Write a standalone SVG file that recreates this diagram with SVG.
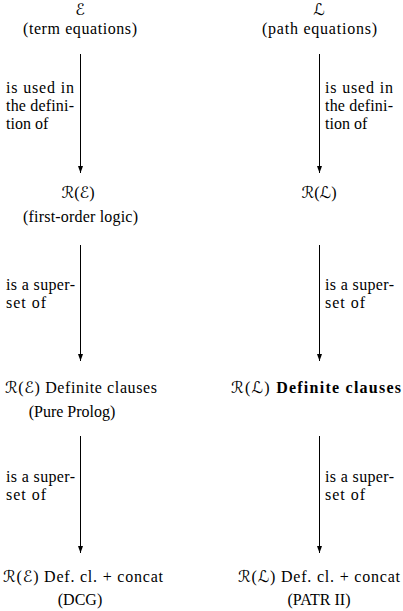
<svg xmlns="http://www.w3.org/2000/svg" width="403" height="611" viewBox="0 0 403 611">
<style>
text{font-family:"Liberation Serif","DejaVu Serif",serif;font-size:16px;fill:#000}
.c{text-anchor:middle}
.b{font-weight:bold}
.s{font-family:"DejaVu Serif","DejaVu Sans",serif;font-style:italic;font-size:16px}
line{stroke:#000;stroke-width:1}
</style>
<defs>
<marker id="ah" viewBox="0 0 7 5" refX="7" refY="2.5" markerWidth="7" markerHeight="5" markerUnits="userSpaceOnUse" orient="auto">
<path d="M0,0 L7,2.5 L0,5 Z" fill="#000"/>
</marker>
</defs>
<rect width="403" height="611" fill="#fff"/>
<g id="connectors">
<line x1="80.5" y1="54" x2="80.5" y2="173" marker-end="url(#ah)"/>
<line x1="319.5" y1="54" x2="319.5" y2="173" marker-end="url(#ah)"/>
<line x1="80.5" y1="245" x2="80.5" y2="361" marker-end="url(#ah)"/>
<line x1="319.5" y1="245" x2="319.5" y2="361" marker-end="url(#ah)"/>
<line x1="80.5" y1="436" x2="80.5" y2="553" marker-end="url(#ah)"/>
<line x1="319.5" y1="436" x2="319.5" y2="553" marker-end="url(#ah)"/>
</g>
<g id="labels">
<text x="6" y="93" textLength="68" lengthAdjust="spacing">is used in</text>
<text x="6" y="111" textLength="68" lengthAdjust="spacing">the defini-</text>
<text x="6" y="129">tion of</text>
<text x="325" y="93" textLength="68" lengthAdjust="spacing">is used in</text>
<text x="325" y="111" textLength="68" lengthAdjust="spacing">the defini-</text>
<text x="325" y="129">tion of</text>
<text x="6" y="290" textLength="69" lengthAdjust="spacing">is a super-</text>
<text x="6" y="308" textLength="40" lengthAdjust="spacing">set of</text>
<text x="325" y="290" textLength="69" lengthAdjust="spacing">is a super-</text>
<text x="325" y="308" textLength="40" lengthAdjust="spacing">set of</text>
<text x="6" y="482" textLength="69" lengthAdjust="spacing">is a super-</text>
<text x="6" y="500" textLength="40" lengthAdjust="spacing">set of</text>
<text x="325" y="482" textLength="69" lengthAdjust="spacing">is a super-</text>
<text x="325" y="500" textLength="40" lengthAdjust="spacing">set of</text>
</g>
<g id="n-E">
<text class="c" x="80" y="15"><tspan class="s">ℰ</tspan></text>
<text x="23" y="34" textLength="114" lengthAdjust="spacing">(term equations)</text>
</g>
<g id="n-L">
<text class="c" x="319" y="15"><tspan class="s">ℒ</tspan></text>
<text x="262" y="34" textLength="115" lengthAdjust="spacing">(path equations)</text>
</g>
<g id="n-RE">
<text class="c" x="78" y="198"><tspan class="s">ℛ</tspan>(<tspan class="s">ℰ</tspan>)</text>
<text x="23" y="222" textLength="115" lengthAdjust="spacing">(first-order logic)</text>
</g>
<g id="n-RL">
<text class="c" x="319" y="198"><tspan class="s">ℛ</tspan>(<tspan class="s">ℒ</tspan>)</text>
</g>
<g id="n-RE-def">
<text x="5" y="393" textLength="152" lengthAdjust="spacing"><tspan class="s">ℛ</tspan>(<tspan class="s">ℰ</tspan>) Definite clauses</text>
<text class="c" x="72" y="417">(Pure Prolog)</text>
</g>
<g id="n-RL-def">
<text x="231" y="393" textLength="170" lengthAdjust="spacing"><tspan class="s">ℛ</tspan>(<tspan class="s">ℒ</tspan>) <tspan class="b">Definite clauses</tspan></text>
</g>
<g id="n-DCG">
<text x="3" y="582" textLength="160" lengthAdjust="spacing"><tspan class="s">ℛ</tspan>(<tspan class="s">ℰ</tspan>) Def. cl. + concat</text>
<text class="c" x="80" y="605">(DCG)</text>
</g>
<g id="n-PATR">
<text x="238" y="582" textLength="162" lengthAdjust="spacing"><tspan class="s">ℛ</tspan>(<tspan class="s">ℒ</tspan>) Def. cl. + concat</text>
<text class="c" x="319" y="605">(PATR II)</text>
</g>
</svg>
